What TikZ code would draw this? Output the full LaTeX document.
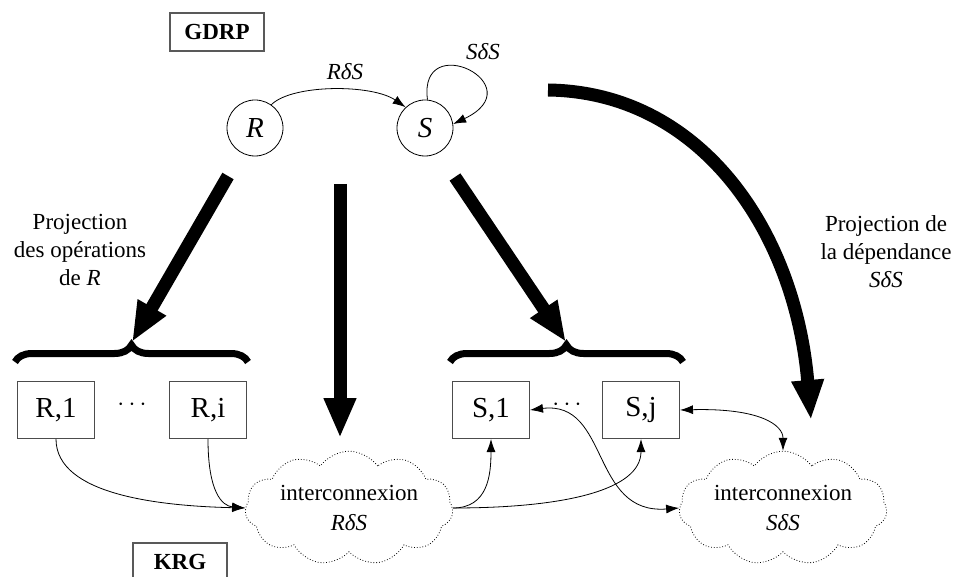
\documentclass[tikz,border=0pt]{standalone}
\usepackage{fontspec}
\setmainfont{Liberation Serif}
\usetikzlibrary{arrows.meta,shapes.symbols,decorations.pathreplacing}
\begin{document}
\begin{tikzpicture}[x=1pt,y=-1pt,
  lab/.style={font=\fontsize{23}{28}\selectfont, align=center, inner sep=0pt},
  dotsl/.style={font=\fontsize{29}{30}\selectfont, inner sep=0pt},
  tag/.style={draw=black!65, line width=1.2pt, font=\fontsize{23}{27}\selectfont\bfseries, minimum width=94pt, minimum height=38pt, inner sep=0pt},
  state/.style={circle, draw, line width=0.8pt, minimum size=56pt, inner sep=0pt, font=\fontsize{29}{30}\selectfont\itshape},
  op/.style={draw=black!70, line width=1pt, minimum width=77pt, minimum height=57pt, inner sep=0pt, font=\fontsize{29}{30}\selectfont},
  inter/.style={cloud, cloud puffs=11, cloud puff arc=110, draw, dotted, line width=0.8pt, minimum width=208pt, minimum height=95pt, aspect=2.2, align=center, font=\fontsize{23}{30}\selectfont, inner sep=0pt},
  big/.style={line width=13pt, -{Triangle[length=40pt,width=30pt]}},
  thin/.style={line width=0.8pt, -{Latex[length=13pt,width=9pt]}},
  both/.style={line width=0.8pt, {Latex[length=13pt,width=9pt]}-{Latex[length=13pt,width=9pt]}},
  bracestyle/.style={decorate, decoration={brace, amplitude=17pt}, line width=7pt}
]
\useasboundingbox (0,0) rectangle (953,577);

% GDRP level
\node[tag] (gdrp) at (217,32) {GDRP};
\node[state] (R) at (255,128) {R};
\node[state] (S) at (425,128) {S};
\draw[thin] (R.55) .. controls (292,84) and (372,84) .. (S.133);
\node[lab] (lRS) at (345,72) {\textit{RδS}};
\draw[thin] (S.85) .. controls (418,28) and (535,85) .. (S.8);
\node[lab] (lSS) at (483,52) {\textit{SδS}};

% projection labels
\node[lab] (lp) at (80,250) {Projection\\des opérations\\de \textit{R}};
\node[lab] (rp) at (886,252) {Projection de\\la dépendance\\\textit{SδS}};

% big arrows
\coordinate (a1s) at (228,176);
\coordinate (bL) at (132,342);
\coordinate (a2s) at (340,184);
\coordinate (a2e) at (340,438);
\coordinate (a3s) at (455,177);
\coordinate (bR) at (566,342);
\coordinate (a4s) at (548,90);
\coordinate (a4e) at (811,420);
\draw[big] (a1s) -- (bL);
\draw[big] (a2s) -- (a2e);
\draw[big] (a3s) -- (bR);
\draw[big] (a4s) .. controls (700,92) and (795,230) .. (a4e);

% braces
\coordinate (bL1) at (15,362);
\coordinate (bL2) at (248,362);
\coordinate (bR1) at (450,362);
\coordinate (bR2) at (683,362);
\draw[bracestyle] (bL1) -- (bL2);
\draw[bracestyle] (bR1) -- (bR2);

% KRG level
\node[op] (r1) at (56,410) {R,1};
\node[op] (ri) at (208,410) {R,i};
\node[dotsl] (d1) at (132,405) {$\cdots$};
\node[op] (s1) at (491,410) {S,1};
\node[op] (sj) at (641,410) {S,j};
\node[dotsl] (d2) at (567,405) {$\cdots$};

\node[inter] (c1) at (349,508) {interconnexion\\\textit{RδS}};
\node[inter] (c2) at (783,508) {interconnexion\\\textit{SδS}};

\node[tag] (krg) at (180,562) {KRG};

% thin connectors
\draw[thin] (r1.south) .. controls (56,495) and (160,506) .. (c1.west);
\draw[thin] (ri.south) .. controls (208,492) and (222,506) .. (c1.west);
\draw[thin] (c1.east) .. controls (488,508) and (491,475) .. (s1.south);
\draw[thin] (c1.east) .. controls (565,508) and (641,490) .. (sj.south);
\draw[both] (s1.east) .. controls (610,400) and (590,515) .. (c2.west);
\draw[both] (sj.east) .. controls (760,408) and (783,425) .. (c2.north);
\end{tikzpicture}
\end{document}
